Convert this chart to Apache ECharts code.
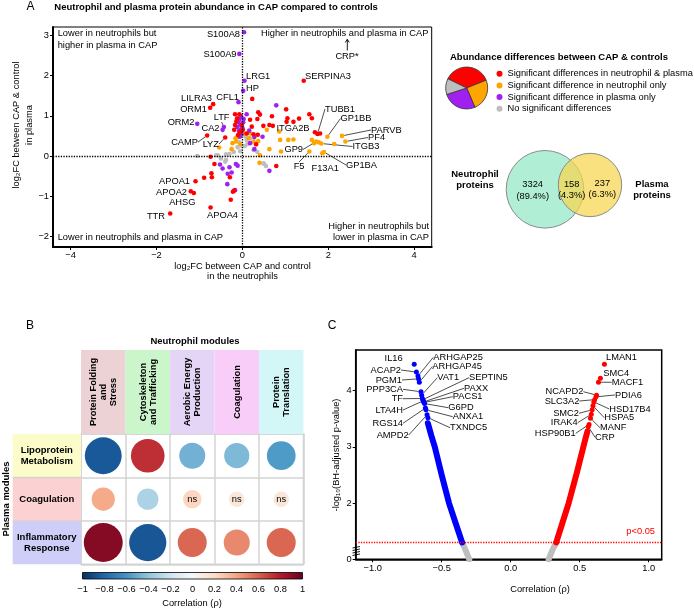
<!DOCTYPE html>
<html><head><meta charset="utf-8">
<script src="https://cdn.jsdelivr.net/npm/echarts@6/dist/echarts.min.js"></script>
<style>html,body{margin:0;padding:0;background:#fff}#c{width:694px;height:610px}</style>
</head><body><div id="c"></div>
<script>
const FONT = '"Liberation Sans", Arial, Helvetica, sans-serif';
// ---------- Panel A data: [log2FC neutrophils, log2FC plasma, label]
const sigBoth = [
 [1.43,1.87,'SERPINA3'],[-0.68,1.29,'LILRA3'],[-0.75,1.20,'ORM1'],[-0.82,0.51,'CAMP'],[-0.40,0.46,'LYZ'],
 [0.71,0.75,'ITGA2B'],[1.75,0.55,'TUBB1'],[-1.09,-0.63,'APOA1'],[-1.20,-0.88,'APOA2'],[-1.13,-0.92,'AHSG'],
 [-1.68,-1.43,'TTR'],[-0.74,-1.28,'APOA4'],
 [0.23,1.42],[1.02,1.16],[0.37,1.09],[0.41,1.03],[0.69,0.99],[1.05,0.94],[1.03,0.85],[1.19,0.85],[1.32,0.93],
 [1.56,1.04],[1.62,0.94],[0.49,0.75],[0.63,0.77],[0.35,0.92],[1.69,0.59],[1.81,0.56],[0.26,0.54],[0.36,0.53],
 [0.01,0.65],[-0.17,1.04],[-0.07,1.04],[-0.12,0.94],[-0.17,0.77],[-0.19,0.65],[-0.01,0.77],[0.18,0.90],
 [0.22,0.73],[0.10,0.56],[-0.14,0.86],[-0.05,0.60],[-0.10,0.52],[0.32,0.29],[0.79,-0.25],
 [-0.89,-0.54],[-0.72,-0.43],[-0.71,-0.53],[-0.65,-0.20],[-0.74,-0.02],[-0.29,-0.53],[-0.22,-0.89],
 [-0.19,-0.86],[-0.27,-1.09]
];
const neutOnly = [
 [1.72,0.36,'GP9'],[1.56,0.11,'F5'],[1.86,0.07,'F13A1'],[1.90,0.10,'GP1BA'],[1.84,0.31,'ITGB3'],
 [2.40,0.36,'PF4'],[2.32,0.50,'PARVB'],[1.98,0.48,'GP1BB'],
 [0.57,0.65],[1.19,0.41],[1.07,0.40],[1.62,0.40],[1.67,0.32],[1.78,0.34],[2.14,0.30],[0.18,0.56],[0.26,0.36],
 [-0.16,0.44],[-0.23,0.32],[0.88,0.40],[-0.15,0.36],[-0.25,0.17],[-0.54,0.21],[-0.12,0.47],[0.37,0.37],
 [0.63,0.17],[0.41,0.02],[0.15,0.44],[0.86,0.61],[0.40,-0.17],[0.90,0.11],[-0.05,0.30],[0.05,0.55]
];
const plasmaOnly = [
 [0.04,3.08,'S100A8'],[-0.07,2.54,'S100A9'],[0.05,1.87,'LRG1'],[0.02,1.62,'HP'],[-0.09,1.34,'CFL1'],
 [-1.05,0.80,'ORM2'],[-0.43,0.72,'LTF'],[-0.46,0.65,'CA2'],
 [0.79,1.26],[0.10,1.04],[-0.10,0.85],[-0.05,0.78],[0.00,0.70],[-0.08,0.62],[-0.02,0.55],[-0.06,0.48],
 [-0.12,0.72],[0.03,0.92],[-0.03,0.98],[-0.07,0.90],[0.02,0.84],[-0.04,0.66],[0.16,0.63],[0.28,0.47],
 [0.18,0.32],[0.47,0.48],[0.28,0.17],[-0.52,-0.21],[-0.30,-0.28],[-0.25,-0.41],[-0.34,-0.44],[-0.35,-0.70],
 [-0.17,-0.85],[-0.15,-0.20],[-0.11,-0.24],[0.63,-0.37],[-0.46,-0.31]
];
const noSig = [
 [-1.05,0.00],[-0.57,0.02],[-0.61,0.02],[-0.50,-0.06],[-0.38,-0.10],[-0.38,0.04],[-0.11,0.22],[-0.01,0.25],
 [0.10,0.40],[0.18,0.44],[0.06,0.25],[0.26,0.15],[0.51,-0.20],[0.55,-0.25],[-0.40,-0.14],[0.49,-0.18],
 [-0.20,0.10],[-0.30,0.05],[0.12,0.30],[-0.05,0.12],[0.35,0.10],[0.08,0.48],[-0.08,0.35]
];
const ticksAx = [-4,-2,0,2,4];
const ticksAy = [-2,-1,0,1,2,3];
// Pie + legend
const pieNames = ['Significant differences in neutrophil & plasma','Significant difference in neutrophil only','Significant difference in plasma only','No significant differences'];
const pieValues = [36.7, 24.7, 26.4, 12.2];
// Venn
const vennCounts = [3324, 158, 237];
const vennPercents = ['89.4%','4.3%','6.3%'];
// ---------- Panel B data
const neutModules = ['Protein Folding\nand\nStress','Cytoskeleton\nand Trafficking','Aerobic Energy\nProduction','Coagulation','Protein\nTranslation'];
const plasmaModules = ['Lipoprotein\nMetabolism','Coagulation','Inflammatory\nResponse'];
const corrLipo = [-0.85, 0.74, -0.48, -0.45, -0.57];
const corrCoag = [0.38, -0.32, 0.22, 0.12, 0.12];
const corrInflam = [0.92, -0.86, 0.58, 0.48, 0.58];
const nsLipo = [0,0,0,0,0];
const nsCoag = [0,0,1,1,1];
const nsInflam = [0,0,0,0,0];
// ---------- Panel C data: [correlation, -log10 adj p, label]
const negLabeled = [
 [-0.699,4.47,'IL16'],[-0.683,4.33,'ACAP2'],[-0.672,4.26,'ARHGAP25'],[-0.668,4.21,'PGM1'],[-0.662,4.15,'ARHGAP45'],
 [-0.650,3.98,'PPP3CA'],[-0.645,3.92,'VAT1'],[-0.640,3.86,'TF'],[-0.636,3.84,'SEPTIN5'],[-0.633,3.82,'LTA4H'],
 [-0.630,3.80,'PAXX'],[-0.627,3.79,'PACS1'],[-0.624,3.77,'G6PD'],[-0.618,3.69,'RGS14'],[-0.614,3.66,'ANXA1'],
 [-0.606,3.57,'AMPD2'],[-0.600,3.52,'TXNDC5']
];
const posLabeled = [
 [0.679,4.47,'LMAN1'],[0.650,4.22,'SMC4'],[0.636,4.15,'MACF1'],[0.622,3.92,'NCAPD2'],[0.618,3.89,'PDIA6'],
 [0.608,3.84,'SLC3A2'],[0.602,3.80,'HSD17B4'],[0.596,3.73,'HSPA5'],[0.590,3.66,'SMC2'],[0.584,3.58,'IRAK4'],
 [0.578,3.51,'MANF'],[0.568,3.40,'HSP90B1'],[0.562,3.36,'CRP']
];
const negBand = [[-0.600,3.42],[-0.575,3.20],[-0.550,3.00],[-0.500,2.50],[-0.447,2.00],[-0.400,1.65],[-0.352,1.30]];
const posBand = [[0.555,3.27],[0.540,3.13],[0.480,2.55],[0.420,2.00],[0.375,1.65],[0.330,1.30]];
const negNS = [[-0.352,1.30],[-0.325,1.15],[-0.300,1.00]];
const posNS = [[0.330,1.30],[0.300,1.15],[0.275,1.00]];
const pThreshold = 1.301;
const ticksCx = [-1,-0.5,0,0.5,1];
const ticksCy = [1,2,3,4];

// ---------- styling
const RED='#ff0000', ORANGE='#ffa500', PURPLE='#a020f0', GREY='#bebebe', BLUE='#0000ff';
const RdBu = ['#053061','#2166ac','#4393c3','#92c5de','#d1e5f0','#f7f7f7','#fddbc7','#f4a582','#d6604d','#b2182b','#67001f'];
const minus = s => String(s).replace('-', '\u2212');
// label placements [x, y, align, withLine]
const labA = {
 S100A8:[240,34.5,'right',0], S100A9:[236.5,54.5,'right',0], LRG1:[246,76,'left',0], HP:[246,88.5,'left',0],
 CFL1:[239,97.5,'right',0], SERPINA3:[305,76,'left',0], LILRA3:[212,98,'right',0], ORM1:[207,109.5,'right',0],
 ORM2:[194.5,122,'right',0], LTF:[229.5,117.5,'right',1], CA2:[219.5,128.5,'right',0], CAMP:[198,142,'right',1],
 LYZ:[219,144,'right',1], ITGA2B:[276.5,128.5,'left',0], TUBB1:[325,109,'left',1], GP1BB:[340.5,118.5,'left',1],
 PARVB:[371,130,'left',1], PF4:[368,137.5,'left',1], ITGB3:[352.5,146.5,'left',1], GP1BA:[346,165,'left',1],
 GP9:[303,149.5,'right',1], F5:[304.5,166.5,'right',1], F13A1:[311.5,168.5,'left',0],
 APOA1:[190,181.5,'right',0], APOA2:[187,192,'right',0], AHSG:[195.5,202,'right',0], TTR:[165,216,'right',0],
 APOA4:[207,215.5,'left',0]
};
const labC = {
 IL16:[402.7,358.3,'right',0], ACAP2:[401,370,'right',1], ARHGAP25:[433.3,357.3,'left',1], PGM1:[402,380,'right',1],
 ARHGAP45:[432.3,366.7,'left',1], PPP3CA:[403,389.3,'right',1], VAT1:[437.3,377.7,'left',1], TF:[403,398.7,'right',1],
 SEPTIN5:[469,377.7,'left',1], LTA4H:[403,410,'right',1], PAXX:[464,388.3,'left',1], PACS1:[452.7,396.7,'left',1],
 G6PD:[448.3,407.7,'left',1], RGS14:[403,423.3,'right',1], ANXA1:[452.7,416.7,'left',1], AMPD2:[408.7,435,'right',1],
 TXNDC5:[450,427.7,'left',1],
 LMAN1:[606,357.3,'left',0], SMC4:[603.3,373.3,'left',0], MACF1:[611.7,382.3,'left',1], NCAPD2:[583.3,391.7,'right',1],
 PDIA6:[615,395,'left',1], SLC3A2:[579.3,401,'right',1], HSD17B4:[609.3,409,'left',1], HSPA5:[604.3,417.7,'left',1],
 SMC2:[579,413.3,'right',1], IRAK4:[577.7,422.7,'right',1], MANF:[600,427.7,'left',1], HSP90B1:[575.7,433.3,'right',1],
 CRP:[595,437.3,'left',1]
};
function items(arr, lab){
  return arr.map(d => ({ name: d[2]||'', value:[d[0],d[1]],
    label:{show: !!d[2]}, labelLine:{show: !!(d[2] && lab[d[2]] && lab[d[2]][3])} }));
}
function layoutFn(arr, lab){
  return p => { const n = arr[p.dataIndex] && arr[p.dataIndex][2]; const L = n && lab[n];
    if (!L) return {}; return {x:L[0], y:L[1], align:L[2], verticalAlign:'middle'}; };
}
const labelStyle = {show:false, formatter:'{b}', fontSize:9.3, color:'#000', fontFamily:FONT};
const lineStyleLbl = {show:true, lineStyle:{color:'#000', width:0.7}};
function scatterA(arr, color, name){
  return {type:'scatter', name, xAxisIndex:0, yAxisIndex:0, symbolSize:4.6, itemStyle:{color, opacity:1},
    data: items(arr, labA), label: labelStyle, labelLine: lineStyleLbl, labelLayout: layoutFn(arr, labA), silent:true};
}
function scatterC(arr, color, name){
  return {type:'scatter', name, xAxisIndex:3, yAxisIndex:3, symbolSize:5, itemStyle:{color, opacity:1},
    data: items(arr, labC), label: labelStyle, labelLine: lineStyleLbl, labelLayout: layoutFn(arr, labC), silent:true, z:5};
}
// matrix data
const matrixData = [];
[corrLipo, corrCoag, corrInflam].forEach((row, r) => row.forEach((v, c) => matrixData.push([c, r, v])));
const nsFlags = [nsLipo, nsCoag, nsInflam];

const font = (sz, bold) => (bold?'bold ':'') + sz + 'px ' + FONT;
function T(text, x, y, o){
  o = o||{};
  return {type:'text', x, y, rotation: o.rot||0, silent:true, z:50,
    style:{text, font: font(o.size||9.3, o.bold), fill: o.color||'#000',
      align:o.align||'left', textAlign:o.align||'left', verticalAlign:'middle', textVerticalAlign:'middle',
      lineHeight: o.lh||11}};
}
const graphics = [];
// Panel A texts
graphics.push(T('A', 26.5, 7, {size:12}));
graphics.push(T('Neutrophil and plasma protein abundance in CAP compared to controls', 54.3, 7, {bold:true, size:9.5}));
graphics.push(T('Lower in neutrophils but\nhigher in plasma in CAP', 57.7, 39.2, {lh:11.7}));
graphics.push(T('Higher in neutrophils and plasma in CAP', 261, 33.3));
graphics.push(T('Lower in neutrophils and plasma in CAP', 57.7, 237.7));
graphics.push(T('Higher in neutrophils but\nlower in plasma in CAP', 429, 232, {align:'right', lh:10.6}));
graphics.push(T('CRP*', 347, 56, {align:'center'}));
graphics.push({type:'polyline', silent:true, z:50, shape:{points:[[347.3,50.5],[347.3,39.5]]}, style:{stroke:'#000', lineWidth:0.9}});
graphics.push({type:'polyline', silent:true, z:50, shape:{points:[[345.3,42.5],[347.3,39.3],[349.3,42.5]]}, style:{stroke:'#000', lineWidth:0.9, fill:null}});
graphics.push(T('log\u2082FC between CAP & control\nin plasma', 23, 125, {rot:Math.PI/2, align:'center', lh:12.5}));
graphics.push(T('log\u2082FC between CAP and control\nin the neutrophils', 242.5, 271.3, {align:'center', lh:10.7}));
// legend title
graphics.push(T('Abundance differences between CAP & controls', 450, 57.7, {bold:true, size:9.5}));
// Venn
graphics.push({type:'circle', silent:true, z:40, shape:{cx:545, cy:189.3, r:38.8}, style:{fill:'#b0efd5', stroke:'#8a8a8a', lineWidth:1}});
graphics.push({type:'circle', silent:true, z:41, shape:{cx:590, cy:185, r:31.7}, style:{fill:'rgba(246,214,78,0.72)', stroke:'#8a8a8a', lineWidth:1}});
graphics.push(T(vennCounts[0] + '\n(' + vennPercents[0] + ')', 532.7, 190.2, {align:'center', lh:11.7}));
graphics.push(T(vennCounts[1] + '\n(' + vennPercents[1] + ')', 571.7, 190, {align:'center', lh:11.7}));
graphics.push(T(vennCounts[2] + '\n(' + vennPercents[2] + ')', 602.3, 188.8, {align:'center', lh:11.5}));
graphics.push(T('Neutrophil\nproteins', 475, 179.5, {bold:true, size:9.5, align:'center'}));
graphics.push(T('Plasma\nproteins', 652, 189.5, {bold:true, size:9.5, align:'center'}));
// Panel B
graphics.push(T('B', 26, 325.7, {size:12}));
graphics.push(T('Neutrophil modules', 195, 341.7, {bold:true, size:9.5, align:'center'}));
const colB = [81, 125.5, 170.1, 214.6, 259.1, 303.5];
const rowB = [434, 477.4, 520.9, 564.3];
const headCols = ['#ecd2d5','#cbf6cb','#e4d4f5','#f8cdf7','#d3f7f6'];
const rowCols = ['#fbfcc9','#fcd1d1','#cecef8'];
neutModules.forEach((m, i) => {
  graphics.push({type:'rect', silent:true, z:30, shape:{x:colB[i], y:350, width:colB[i+1]-colB[i], height:84}, style:{fill:headCols[i]}});
  graphics.push(T(m, (colB[i]+colB[i+1])/2 + 0.5, 392, {bold:true, rot:Math.PI/2, align:'center', lh:10}));
});
plasmaModules.forEach((m, i) => {
  graphics.push({type:'rect', silent:true, z:30, shape:{x:12.7, y:rowB[i], width:81-12.7, height:rowB[i+1]-rowB[i]}, style:{fill:rowCols[i]}});
  graphics.push(T(m, 46.8, (rowB[i]+rowB[i+1])/2, {bold:true, size:9.5, align:'center', lh:11}));
});
[rowB[1], rowB[2]].forEach(y => graphics.push({type:'line', silent:true, z:31, shape:{x1:12.7, y1:y, x2:81, y2:y}, style:{stroke:'#d3d3d3', lineWidth:1.5}}));
graphics.push(T('Plasma modules', 6, 499, {bold:true, size:9.5, rot:Math.PI/2, align:'center'}));
graphics.push(T('Correlation (\u03c1)', 192, 603.3, {align:'center'}));
// Panel C
graphics.push(T('C', 327.7, 325.7, {size:12}));
graphics.push(T('-log\u2081\u2080(BH-adjusted p-value)', 336, 455, {rot:Math.PI/2, align:'center'}));
graphics.push(T('Correlation (\u03c1)', 540, 589.3, {align:'center'}));
graphics.push(T('p<0.05', 655, 531, {align:'right', color:RED}));
[547, 549.5, 552, 554.5].forEach(y => graphics.push({type:'line', silent:true, z:50, shape:{x1:352.5, y1:y+1, x2:360, y2:y-0.5}, style:{stroke:'#000', lineWidth:0.9}}));

const axisLblStyle = {fontSize:9.3, color:'#000', fontFamily:FONT};
const option = {
  animation:false,
  textStyle:{fontFamily:FONT},
  grid:[
    {left:53, top:27, width:378.7, height:220, show:true, borderColor:'#000', borderWidth:1},
    {left:81, top:434, width:222.5, height:130.3, show:true, borderColor:'#d3d3d3', borderWidth:1.5, backgroundColor:'#fff'},
    {left:82.5, top:572.5, width:220, height:6.5, show:true, borderColor:'#000', borderWidth:0.8,
      backgroundColor: new echarts.graphic.LinearGradient(0,0,1,0, RdBu.map((c,i)=>({offset:i/10, color:c})))},
    {left:355.7, top:350, width:306, height:209.3, show:true, borderColor:'#000', borderWidth:1.5}
  ],
  xAxis:[
    {type:'value', gridIndex:0, min:-4.41, max:4.41, axisLine:{onZero:false, lineStyle:{color:'#000', width:2}},
      axisTick:{customValues:ticksAx, length:3, lineStyle:{color:'#000'}},
      axisLabel:{customValues:ticksAx, formatter:v=>minus(v), margin:4, ...axisLblStyle}, splitLine:{show:false}},
    {type:'category', gridIndex:1, data:neutModules, axisLine:{show:false}, axisTick:{show:false}, axisLabel:{show:false},
      splitLine:{show:true, interval:0, lineStyle:{color:'#d3d3d3', width:1.5}}},
    {type:'value', gridIndex:2, min:-1, max:1, interval:0.2, axisLine:{show:false}, axisTick:{show:false},
      axisLabel:{formatter:v=>{const r=Math.round(v*10)/10; return minus(Math.abs(r)===1||r===0?String(r):r.toFixed(1));}, margin:6, ...axisLblStyle},
      splitLine:{show:false}},
    {type:'value', gridIndex:3, min:-1.123, max:1.094, axisLine:{onZero:false, lineStyle:{color:'#000', width:1.5}},
      axisTick:{customValues:ticksCx, length:3, lineStyle:{color:'#000'}},
      axisLabel:{customValues:ticksCx, formatter:v=>minus(v.toFixed(1)), margin:5, ...axisLblStyle}, splitLine:{show:false}}
  ],
  yAxis:[
    {type:'value', gridIndex:0, min:-2.264, max:3.209, axisLine:{onZero:false, lineStyle:{color:'#000', width:2}},
      axisTick:{customValues:ticksAy, length:3, lineStyle:{color:'#000'}},
      axisLabel:{customValues:ticksAy, formatter:v=>minus(v), margin:4, ...axisLblStyle}, splitLine:{show:false}},
    {type:'category', gridIndex:1, data:plasmaModules, inverse:true, axisLine:{show:false}, axisTick:{show:false}, axisLabel:{show:false},
      splitLine:{show:true, interval:0, lineStyle:{color:'#d3d3d3', width:1.5}}},
    {type:'value', gridIndex:2, min:0, max:1, show:false},
    {type:'value', gridIndex:3, min:1, max:4.723, axisLine:{onZero:false, lineStyle:{color:'#000', width:1.5}},
      axisTick:{customValues:ticksCy, length:3, lineStyle:{color:'#000'}},
      axisLabel:{customValues:ticksCy, formatter:v=>v===1?'0':String(v), margin:4, ...axisLblStyle}, splitLine:{show:false}}
  ],
  legend:{data:pieNames, left:496.5, top:69.2, orient:'vertical', icon:'circle', itemWidth:6, itemHeight:6, itemGap:2.7,
    padding:0, selectedMode:false, itemStyle:{borderWidth:0},
    textStyle:{fontSize:9.3, color:'#000', fontFamily:FONT, lineHeight:9}},
  visualMap:{type:'continuous', min:-1, max:1, dimension:2, seriesIndex:4, show:false, inRange:{color:RdBu}},
  graphic:{elements:graphics},
  series:[
    Object.assign(scatterA(noSig, GREY, 'A-grey'), {markLine:{silent:true, symbol:'none', label:{show:false},
      lineStyle:{type:'dotted', color:'#000', width:1.3}, data:[{xAxis:0},{yAxis:0}]}}),
    scatterA(neutOnly, ORANGE, 'A-orange'),
    scatterA(plasmaOnly, PURPLE, 'A-purple'),
    scatterA(sigBoth, RED, 'A-red'),
    {type:'scatter', name:'B-matrix', xAxisIndex:1, yAxisIndex:1, silent:true, data:matrixData,
      itemStyle:{opacity:1},
      symbolSize: v => 12 + 29.3*Math.abs(v[2]),
      label:{show:true, position:'inside', color:'#000', fontSize:9.3, fontFamily:FONT,
        formatter: p => nsFlags[p.value[1]][p.value[0]] ? 'ns' : ''}},
    {type:'pie', name:'pie', center:[466.7,88], radius:21, startAngle:154, clockwise:true, silent:true,
      label:{show:false}, labelLine:{show:false}, itemStyle:{borderColor:'#333', borderWidth:0.8},
      data: pieNames.map((n,i)=>({name:n, value:pieValues[i], itemStyle:{color:[RED,ORANGE,PURPLE,GREY][i]}}))},
    {type:'line', xAxisIndex:3, yAxisIndex:3, data:negNS, symbol:'none', silent:true, lineStyle:{color:GREY, width:6, cap:'round', join:'round'}},
    {type:'line', xAxisIndex:3, yAxisIndex:3, data:posNS, symbol:'none', silent:true, lineStyle:{color:GREY, width:6, cap:'round', join:'round'}},
    {type:'line', xAxisIndex:3, yAxisIndex:3, data:negBand, symbol:'none', silent:true, lineStyle:{color:BLUE, width:6, cap:'round', join:'round'},
      markLine:{silent:true, symbol:'none', label:{show:false}, lineStyle:{type:'dotted', color:RED, width:1.3}, data:[{yAxis:pThreshold}]}},
    {type:'line', xAxisIndex:3, yAxisIndex:3, data:posBand, symbol:'none', silent:true, lineStyle:{color:RED, width:6, cap:'round', join:'round'}},
    scatterC(negLabeled, BLUE, 'C-neg'),
    scatterC(posLabeled, RED, 'C-pos')
  ]
};
const chart = echarts.init(document.getElementById('c'), null, {renderer:'canvas'});
chart.setOption(option);
</script></body></html>
